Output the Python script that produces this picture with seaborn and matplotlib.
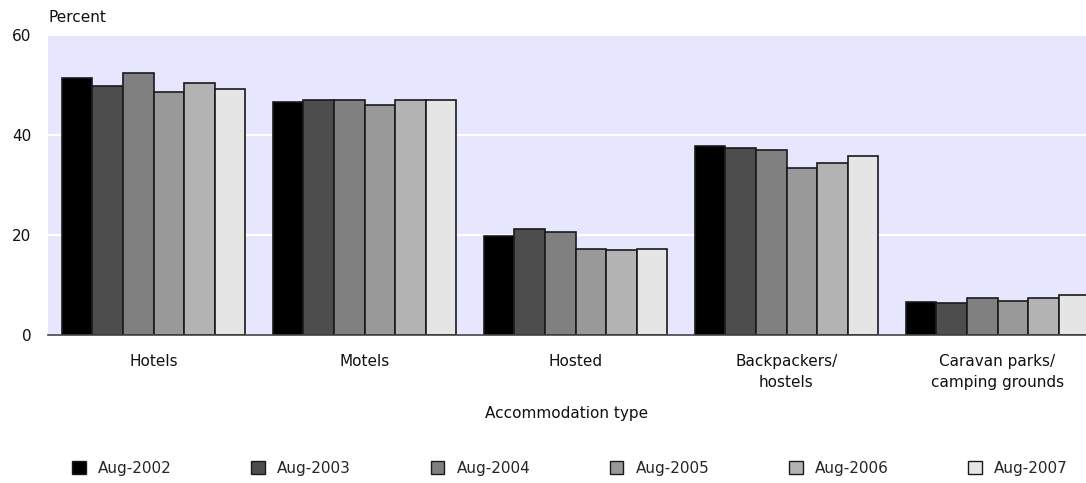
import numpy as np
import pandas as pd
import matplotlib
matplotlib.use('Agg')
import matplotlib.pyplot as plt
import seaborn as sns

# Chart data
categories = ['Hotels', 'Motels', 'Hosted', 'Backpackers/\nhostels', 'Caravan parks/\ncamping grounds']
periods = ['Aug-2002', 'Aug-2003', 'Aug-2004', 'Aug-2005', 'Aug-2006', 'Aug-2007']
aug_2002 = [51.5, 46.7, 19.9, 37.9, 6.7]
aug_2003 = [49.8, 47.0, 21.3, 37.4, 6.5]
aug_2004 = [52.5, 47.0, 20.6, 37.0, 7.5]
aug_2005 = [48.6, 46.1, 17.3, 33.4, 6.9]
aug_2006 = [50.5, 47.0, 17.0, 34.5, 7.5]
aug_2007 = [49.3, 47.0, 17.3, 35.8, 8.1]
colors = ['#000000', '#4d4d4d', '#808080', '#999999', '#b3b3b3', '#e5e5e5']

series = [aug_2002, aug_2003, aug_2004, aug_2005, aug_2006, aug_2007]
rows = []
for p, vals in zip(periods, series):
    for c, v in zip(categories, vals):
        rows.append({'type': c, 'period': p, 'pct': v})
df = pd.DataFrame(rows)

sns.set_style('white')
plt.rcParams['font.family'] = ['DejaVu Sans']
fs = 11

fig = plt.figure(figsize=(10.86, 4.83), dpi=100)
ax = fig.add_axes([48 / 1086, 1 - 335 / 483, 1 - 48 / 1086, 300 / 483])
ax.set_facecolor('#e6e6ff')

sns.barplot(data=df, x='type', y='pct', hue='period', order=categories,
            hue_order=periods, palette=colors, width=0.87, gap=0,
            edgecolor='#1a1a1a', linewidth=1.2, saturation=1, ax=ax, legend=False)

ax.set_ylim(0, 60)
ax.set_yticks([0, 20, 40, 60])
ax.set_xlim(-0.5, -0.5 + (1086 - 48) / 211)
ax.set_xticks(range(len(categories)))
ax.set_xticklabels(categories, linespacing=1.5)
ax.yaxis.grid(True, color='white', linewidth=1.5)
ax.set_axisbelow(True)
for s in ['top', 'right', 'left']:
    ax.spines[s].set_visible(False)
ax.spines['bottom'].set_color('#444444')
ax.spines['bottom'].set_linewidth(1.2)
ax.tick_params(axis='both', length=0, labelsize=fs, colors='#111111')
ax.tick_params(axis='y', pad=12)
ax.tick_params(axis='x', pad=14)
ax.set_ylabel('')
ax.set_xlabel('Accommodation type', fontsize=fs, labelpad=11, color='#111111')
fig.text(49 / 1086, 1 - 17 / 483, 'Percent', fontsize=fs, va='center', ha='left', color='#111111')

# legend along the bottom
handles = [plt.Rectangle((0, 0), 1, 1, facecolor=col, edgecolor='#1a1a1a', linewidth=1)
           for col in colors]
fig.legend(handles, periods, loc='center left',
           bbox_to_anchor=(72 / 1086, 1 - 468 / 483, (1068 - 72) / 1086, 0.0),
           mode='expand', ncol=6, frameon=False, fontsize=fs, handlelength=0.9,
           handleheight=0.9, handletextpad=0.8, borderaxespad=0, borderpad=0)

fig.savefig('out.png', dpi=100)
